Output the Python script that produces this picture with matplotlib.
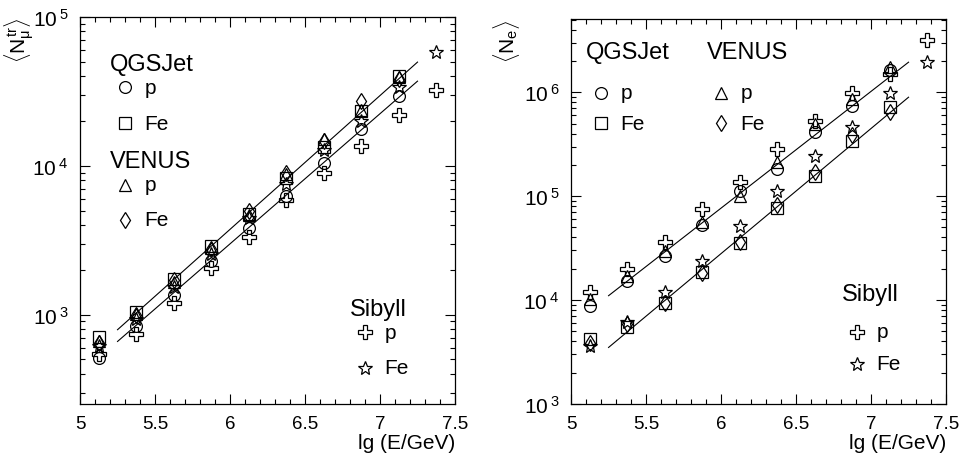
import numpy as np
import matplotlib
matplotlib.use("Agg")
import matplotlib.pyplot as plt
from matplotlib.ticker import MultipleLocator, FixedLocator, FixedFormatter, FuncFormatter

plt.rcParams['font.family'] = ['Liberation Sans', 'DejaVu Sans']
plt.rcParams['mathtext.fontset'] = 'custom'
plt.rcParams['mathtext.rm'] = 'Liberation Sans'
plt.rcParams['mathtext.it'] = 'Liberation Sans'
plt.rcParams['mathtext.sf'] = 'Liberation Sans'

# lg(E/GeV) bins
lg_e = [5.125, 5.375, 5.625, 5.875, 6.125, 6.375, 6.625, 6.875, 7.125]
lg_e_sib = [5.125, 5.375, 5.625, 5.875, 6.125, 6.375, 6.625, 6.875, 7.125, 7.375]

# muon number <N_mu^tr>
mu_qgs_p = [515, 834, 1363, 2312, 3840, 6280, 10420, 17660, 29300]
mu_qgs_fe = [706, 1050, 1740, 2890, 4720, 8340, 13430, 23500, 40400]
mu_ven_p = [661, 1010, 1660, 2790, 4680, 8790, 15130, 23700, 39400]
mu_ven_fe = [646, 1000, 1700, 2750, 4980, 9020, 14760, 27400, 38400]
mu_sib_p = [543, 741, 1200, 2043, 3320, 5870, 9020, 13650, 22100, 32100]
mu_sib_fe = [617, 935, 1530, 2565, 4435, 7520, 12760, 20100, 33700, 58100]

# electron number <N_e>
e_qgs_p = [8800, 15300, 26700, 52800, 113000, 183000, 412000, 745000, 1620000]
e_qgs_fe = [4200, 5460, 9360, 18500, 35500, 76400, 157000, 343000, 718000]
e_ven_p = [10300, 17100, 29900, 56000, 101000, 212000, 495000, 863000, 1740000]
e_ven_fe = [3900, 5900, 9300, 18300, 35900, 82200, 170000, 388000, 642000]
e_sib_p = [12000, 19900, 36500, 75200, 136000, 284000, 533000, 986000, 1500000, 3210000]
e_sib_fe = [3630, 6100, 11900, 23900, 52000, 113000, 246000, 467000, 980000, 1945000]

# fitted lines (end points)
fit_x = [5.25, 7.25]
mu_fit_fe = [10**2.899, 10**4.697]
mu_fit_p = [10**2.82, 10**4.569]
e_fit_p = [10**4.042, 10**6.289]
e_fit_fe = [10**3.544, 10**5.952]

fs_tick = 13.5
fs_ytick = 15
fs_title = 17
fs_entry = 15
mk = dict(linestyle='none', markerfacecolor='none', markeredgecolor='black',
          markeredgewidth=0.9)
styles = {
    'qgs_p': dict(marker='o', markersize=8.5),
    'qgs_fe': dict(marker='s', markersize=8.5),
    'ven_p': dict(marker='^', markersize=8.5),
    'ven_fe': dict(marker='d', markersize=8.5),
    'sib_p': dict(marker='P', markersize=9.5),
    'sib_fe': dict(marker='*', markersize=10.5),
}


def decade_label(v, pos):
    return r'$\mathdefault{10^{\;%d}}$' % int(round(np.log10(v)))


def style_axes(ax, ylim):
    ax.set_yscale('log')
    ax.set_xlim(5, 7.5)
    ax.set_ylim(*ylim)
    ax.xaxis.set_major_locator(FixedLocator([5, 5.5, 6, 6.5, 7, 7.5]))
    ax.xaxis.set_major_formatter(FixedFormatter(['5', '5.5', '6', '6.5', '7', '7.5']))
    ax.xaxis.set_minor_locator(MultipleLocator(0.1))
    ax.yaxis.set_major_formatter(FuncFormatter(decade_label))
    ax.tick_params(which='both', direction='in', top=True, right=True,
                   labelsize=fs_tick, width=0.8)
    ax.tick_params(axis='y', labelsize=fs_ytick)
    ax.tick_params(which='major', length=7, pad=8)
    ax.tick_params(which='minor', length=3.5)
    for s in ax.spines.values():
        s.set_linewidth(0.9)
    ax.set_xlabel('lg (E/GeV)', fontsize=fs_entry, loc='right', labelpad=1)


def legend_entry(ax, x, y, key, label):
    ax.plot([x], [y], transform=ax.transAxes, clip_on=False, **mk, **styles[key])
    ax.text(x + 0.052, y, label, transform=ax.transAxes, fontsize=fs_entry,
            va='center', ha='left')


fig = plt.figure(figsize=(9.63, 4.64), dpi=100)
ax1 = fig.add_axes([0.0831, 0.1272, 0.3894, 0.834])
ax2 = fig.add_axes([0.593, 0.1272, 0.3894, 0.830])

# left panel: muons
ax1.plot(fit_x, mu_fit_fe, color='black', linewidth=0.8)
ax1.plot(fit_x, mu_fit_p, color='black', linewidth=0.8)
ax1.plot(lg_e, mu_qgs_p, **mk, **styles['qgs_p'])
ax1.plot(lg_e, mu_qgs_fe, **mk, **styles['qgs_fe'])
ax1.plot(lg_e, mu_ven_p, **mk, **styles['ven_p'])
ax1.plot(lg_e, mu_ven_fe, **mk, **styles['ven_fe'])
ax1.plot(lg_e_sib, mu_sib_p, **mk, **styles['sib_p'])
ax1.plot(lg_e_sib, mu_sib_fe, **mk, **styles['sib_fe'])
style_axes(ax1, (10**2.4, 1e5))
ax1.set_ylabel(r'$\langle N_{\mu}^{tr} \rangle$', fontsize=fs_entry, loc='top')
ax1.yaxis.set_label_coords(-0.115, 1.0)

ax1.text(0.08, 0.879, 'QGSJet', transform=ax1.transAxes, fontsize=fs_title, va='center')
legend_entry(ax1, 0.12, 0.819, 'qgs_p', 'p')
legend_entry(ax1, 0.12, 0.726, 'qgs_fe', 'Fe')
ax1.text(0.08, 0.628, 'VENUS', transform=ax1.transAxes, fontsize=fs_title, va='center')
legend_entry(ax1, 0.12, 0.566, 'ven_p', 'p')
legend_entry(ax1, 0.12, 0.476, 'ven_fe', 'Fe')
ax1.text(0.72, 0.245, 'Sibyll', transform=ax1.transAxes, fontsize=fs_title, va='center')
legend_entry(ax1, 0.76, 0.186, 'sib_p', 'p')
legend_entry(ax1, 0.76, 0.093, 'sib_fe', 'Fe')

# right panel: electrons
ax2.plot(fit_x, e_fit_p, color='black', linewidth=0.8)
ax2.plot(fit_x, e_fit_fe, color='black', linewidth=0.8)
ax2.plot(lg_e, e_qgs_p, **mk, **styles['qgs_p'])
ax2.plot(lg_e, e_qgs_fe, **mk, **styles['qgs_fe'])
ax2.plot(lg_e, e_ven_p, **mk, **styles['ven_p'])
ax2.plot(lg_e, e_ven_fe, **mk, **styles['ven_fe'])
ax2.plot(lg_e_sib, e_sib_p, **mk, **styles['sib_p'])
ax2.plot(lg_e_sib, e_sib_fe, **mk, **styles['sib_fe'])
style_axes(ax2, (1e3, 10**6.706))
ax2.set_ylabel(r'$\langle N_{e} \rangle$', fontsize=fs_entry, loc='top')
ax2.yaxis.set_label_coords(-0.131, 1.0)

ax2.text(0.04, 0.914, 'QGSJet', transform=ax2.transAxes, fontsize=fs_title, va='center')
ax2.text(0.362, 0.914, 'VENUS', transform=ax2.transAxes, fontsize=fs_title, va='center')
legend_entry(ax2, 0.08, 0.808, 'qgs_p', 'p')
legend_entry(ax2, 0.08, 0.729, 'qgs_fe', 'Fe')
legend_entry(ax2, 0.40, 0.808, 'ven_p', 'p')
legend_entry(ax2, 0.40, 0.729, 'ven_fe', 'Fe')
ax2.text(0.722, 0.286, 'Sibyll', transform=ax2.transAxes, fontsize=fs_title, va='center')
legend_entry(ax2, 0.762, 0.187, 'sib_p', 'p')
legend_entry(ax2, 0.762, 0.104, 'sib_fe', 'Fe')

fig.savefig('out.png', dpi=100)
